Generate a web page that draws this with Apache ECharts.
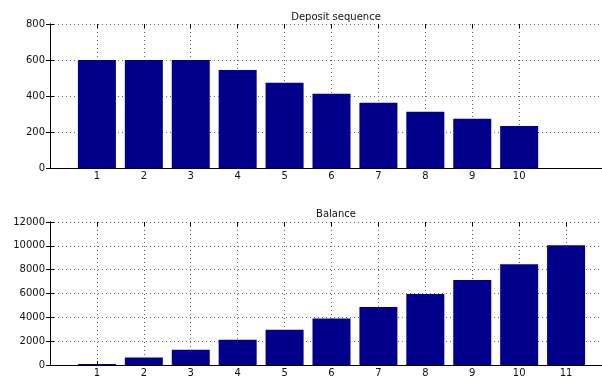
<!DOCTYPE html>
<html><head><meta charset="utf-8">
<script src="https://cdn.jsdelivr.net/npm/echarts@6/dist/echarts.min.js"></script>
<style>html,body{margin:0;padding:0;background:#fff}#c{width:602px;height:379px}</style>
</head><body><div id="c"></div>
<script>
const depositCats = [1,2,3,4,5,6,7,8,9,10];
const depositVals = [600,600,600,545,473,412,362,312,273,234];
const balanceCats = [1,2,3,4,5,6,7,8,9,10,11];
const balanceVals = [0,635,1278,2114,2950,3894,4872,5958,7128,8465,10052];
const depositTicks = [0,200,400,600,800];
const balanceTicks = [0,2000,4000,6000,8000,10000,12000];
const titles = ['Deposit sequence','Balance'];

const FONT = 'DejaVu Sans, sans-serif';
const gridLine = {show:true, lineStyle:{color:'#666', width:1, type:[1,3]}};
const axLine = {show:true, lineStyle:{color:'#000', width:1}};
const tick = {show:true, inside:true, length:4, lineStyle:{color:'#000'}};
const noLabel = {show:false};
const label = {show:true, color:'#111', fontFamily:FONT, fontSize:10, margin:5};

const XMAX = 12;
const PLOT_W = 563;
const step = PLOT_W / XMAX;

function frameX(gi, pos){
  return {type:'value', gridIndex:gi, position:pos, min:0, max:XMAX, interval:1,
    axisLine:axLine, axisTick:{show:false}, axisLabel:noLabel, splitLine:{show:false}};
}
function tickX(gi, n, pos){
  const main = pos==='bottom';
  return {type:'value', gridIndex:gi, position:pos, min:0, max:n, interval:1,
    axisLine:{show:false}, axisTick:tick,
    axisLabel: main ? Object.assign({}, label, {margin:3, formatter:v=> v>=1 ? String(v) : ''}) : noLabel,
    splitLine: main ? gridLine : {show:false}};
}
function yAx(gi, ticks, pos, full){
  const main = pos==='left';
  return {type:'value', gridIndex:gi, position:pos, min:ticks[0], max:ticks[ticks.length-1],
    interval:ticks[1]-ticks[0],
    axisLine: full ? axLine : {show:false}, axisTick: full ? tick : {show:false},
    axisLabel: (full && main) ? Object.assign({}, label, {formatter:v=>String(v)}) : noLabel,
    splitLine: (full && main) ? gridLine : {show:false}};
}

const chart = echarts.init(document.getElementById('c'), null, {renderer:'canvas'});
const topN = depositCats.length, botN = balanceCats.length;
const titleStyle = {fontFamily:FONT, fontSize:10, fontWeight:'normal', color:'#111'};
chart.setOption({
  animation:false,
  backgroundColor:'#fff',
  title:[
    {text:titles[0], left:331, top:7, textAlign:'center', textStyle:titleStyle},
    {text:titles[1], left:331, top:204, textAlign:'center', textStyle:titleStyle}
  ],
  grid:[
    {left:50, top:24, width:PLOT_W, height:144, outerBoundsMode:'none', containLabel:false},
    {left:50, top:24, width:step*topN, height:144, outerBoundsMode:'none', containLabel:false},
    {left:50, top:222, width:PLOT_W, height:143, outerBoundsMode:'none', containLabel:false},
    {left:50, top:222, width:step*botN, height:143, outerBoundsMode:'none', containLabel:false}
  ],
  xAxis:[frameX(0,'bottom'), frameX(0,'top'), tickX(1,topN,'bottom'), tickX(1,topN,'top'),
         frameX(2,'bottom'), frameX(2,'top'), tickX(3,botN,'bottom'), tickX(3,botN,'top')],
  yAxis:[yAx(0,depositTicks,'left',true), yAx(0,depositTicks,'right',true), yAx(1,depositTicks,'left',false),
         yAx(2,balanceTicks,'left',true), yAx(2,balanceTicks,'right',true), yAx(3,balanceTicks,'left',false)],
  series:[
    {type:'bar', xAxisIndex:0, yAxisIndex:0, barWidth:38, z:3,
     data: depositCats.map((c,i)=>[c, depositVals[i]]),
     itemStyle:{color:'#00008b'}},
    {type:'bar', xAxisIndex:4, yAxisIndex:3, barWidth:38, barMinHeight:1, z:3,
     data: balanceCats.map((c,i)=>[c, balanceVals[i]]),
     itemStyle:{color:'#00008b'}}
  ]
});
</script>
</body></html>
